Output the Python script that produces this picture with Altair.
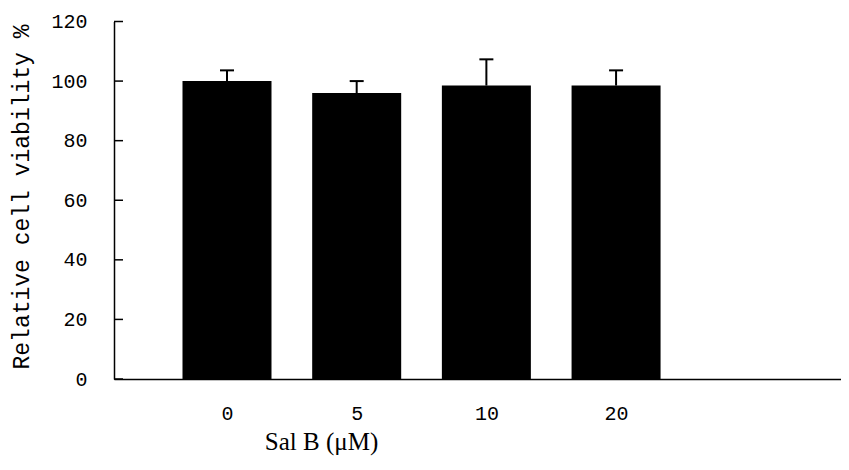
import json
import altair as alt
import pandas as pd

categories = ["0", "5", "10", "20"]
means = [100.0, 96.0, 98.5, 98.5]
errors = [3.6, 4.0, 8.8, 5.1]
y_ticks = [0, 20, 40, 60, 80, 100, 120]

df = pd.DataFrame({
    "dose": categories,
    "pos": list(range(len(categories))),
    "mean": means,
    "err": errors,
})
df["top"] = df["mean"] + df["err"]
ticks_df = pd.DataFrame({"v": y_ticks})

W, H = 727, 357.5
x_scale = alt.Scale(domain=[-0.8327, 4.6958], nice=False, zero=False)
y_scale = alt.Scale(domain=[0, 120], nice=False)

label_expr = "%s[datum.value]" % json.dumps(categories)

x_enc = alt.X(
    "pos:Q", scale=x_scale,
    axis=alt.Axis(
        values=list(range(len(categories))), labelExpr=label_expr,
        ticks=False, grid=False, domainColor="black", domainWidth=1.5,
        labelFont="Liberation Mono", labelFontSize=20, labelColor="black",
        labelBaseline="middle", labelPadding=34,
        title="Sal B (\u03bcM)", titleFont="Liberation Serif", titleFontSize=25,
        titleFontWeight="normal", titleColor="black",
        titleX=207, titleY=62, titleAnchor="middle", titleAlign="center",
        titleBaseline="middle",
    ),
)
y_enc = alt.Y(
    "mean:Q", scale=y_scale,
    axis=alt.Axis(
        values=y_ticks, ticks=False, grid=False, domainColor="black",
        domainWidth=1.5, labelFont="Liberation Mono", labelFontSize=20,
        labelColor="black", labelPadding=27,
        title="Relative cell viability %", titleFont="Liberation Mono",
        titleFontSize=23, titleFontWeight="normal", titleColor="black",
        titleX=-93, titleY=175, titleAlign="center", titleBaseline="middle",
    ),
)

base = alt.Chart(df)

bars = base.mark_bar(color="black", size=89).encode(x=x_enc, y=y_enc)

err_lines = base.mark_rule(color="black", strokeWidth=2).encode(
    x="pos:Q", y="mean:Q", y2="top:Q"
)
caps = base.mark_rule(color="black", strokeWidth=2, xOffset=-7, x2Offset=7).encode(
    x="pos:Q", x2="pos:Q", y="top:Q"
)
inward_ticks = alt.Chart(ticks_df).mark_rule(color="black", strokeWidth=1.5).encode(
    y=alt.Y("v:Q", scale=y_scale), x=alt.value(0), x2=alt.value(9)
)

chart = (
    alt.layer(bars, err_lines, caps, inward_ticks)
    .properties(
        width=W, height=H, autosize="none",
        padding={"left": 106, "top": 13.5, "right": 0, "bottom": 80},
        background="white",
    )
    .configure_view(stroke=None)
)

chart.save("out.html", embed_options={"renderer": "svg", "actions": False})
